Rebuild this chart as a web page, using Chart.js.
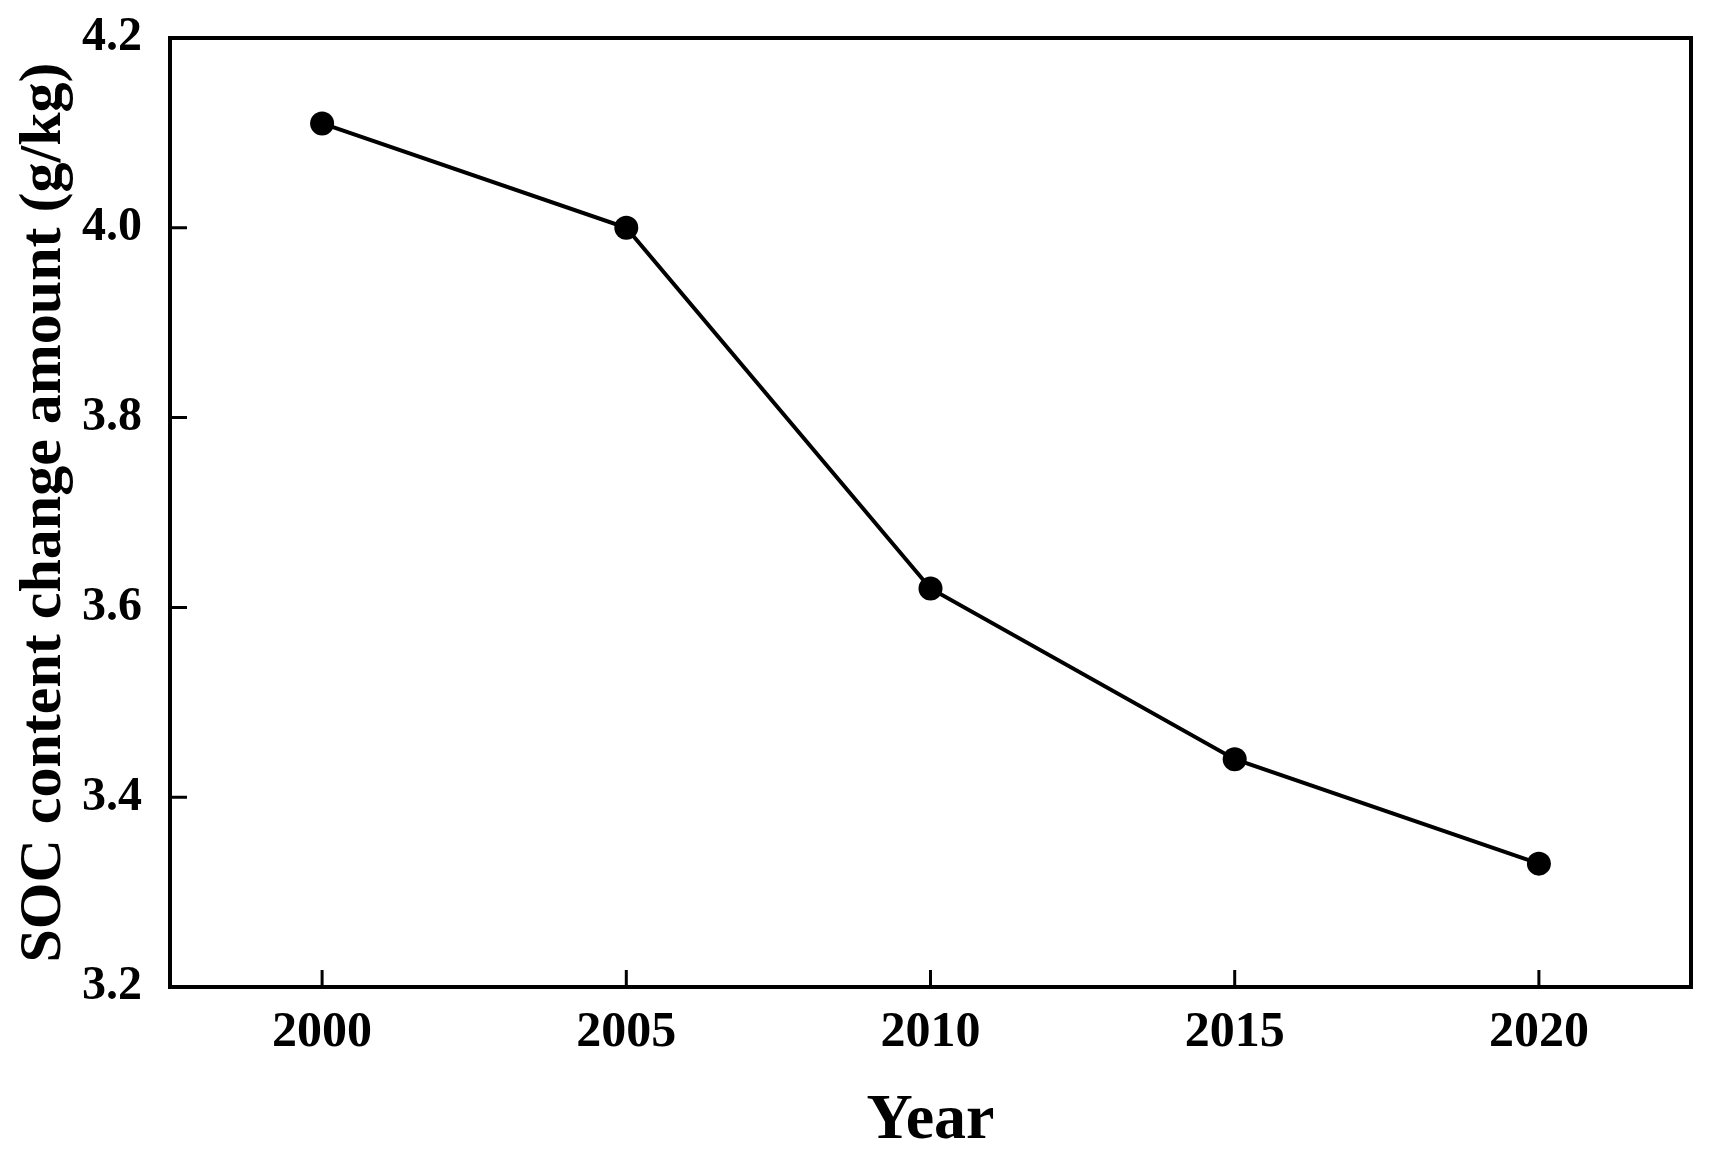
<!DOCTYPE html>
<html lang="en">
<head>
    <meta charset="UTF-8">
    <title>SOC content change</title>
    <script src="https://cdn.jsdelivr.net/npm/chart.js"></script>
    <style>
        body {
            margin: 0;
            background: #ffffff;
        }
        .chart-container {
            position: relative;
            width: 1710px;
            height: 1164px;
        }
    </style>
</head>
<body>
    <div class="chart-container">
        <canvas id="socChart"></canvas>
    </div>
    <script>
        // values
        const years = ['2000', '2005', '2010', '2015', '2020'];
        const socChange = [4.11, 4.00, 3.62, 3.44, 3.33];
        const yMin = 3.2;
        const yMax = 4.2;
        const yStep = 0.2;

        const fontFamily = "'Liberation Serif', 'Times New Roman', serif";

        // box around the plot plus tick marks pointing inward
        const frameAndTicks = {
            id: 'frameAndTicks',
            afterDatasetsDraw(chart) {
                const { ctx, chartArea: a, scales } = chart;
                const tickLen = 17;
                ctx.save();
                ctx.strokeStyle = '#000';
                ctx.lineWidth = 4;
                ctx.strokeRect(a.left, a.top, a.right - a.left, a.bottom - a.top);

                ctx.beginPath();
                scales.x.ticks.forEach((_, i) => {
                    const px = scales.x.getPixelForTick(i);
                    ctx.moveTo(px, a.bottom);
                    ctx.lineTo(px, a.bottom - tickLen);
                });
                scales.y.ticks.forEach((_, i) => {
                    const py = scales.y.getPixelForTick(i);
                    ctx.moveTo(a.left, py);
                    ctx.lineTo(a.left + tickLen, py);
                });
                ctx.lineWidth = 3;
                ctx.stroke();
                ctx.restore();
            }
        };

        const ctx = document.getElementById('socChart').getContext('2d');
        new Chart(ctx, {
            type: 'line',
            data: {
                labels: years,
                datasets: [{
                    label: 'SOC content change amount',
                    data: socChange,
                    borderColor: '#000',
                    backgroundColor: '#000',
                    borderWidth: 4,
                    pointRadius: 12,
                    pointBorderWidth: 0,
                    pointBackgroundColor: '#000',
                    tension: 0,
                    fill: false
                }]
            },
            options: {
                responsive: true,
                maintainAspectRatio: false,
                animation: false,
                layout: {
                    padding: { top: 38, right: 19, left: 0, bottom: 0 }
                },
                plugins: {
                    legend: { display: false },
                    tooltip: { enabled: false }
                },
                scales: {
                    x: {
                        offset: true,
                        grid: { display: false },
                        border: { display: false },
                        ticks: {
                            color: '#000',
                            padding: 8,
                            font: { family: fontFamily, size: 50, weight: 'bold' }
                        },
                        title: {
                            display: true,
                            text: 'Year',
                            color: '#000',
                            padding: { top: 0, bottom: 4 },
                            font: { family: fontFamily, size: 64, weight: 'bold' }
                        },
                        afterFit(scale) {
                            scale.height = 177;
                        }
                    },
                    y: {
                        min: yMin,
                        max: yMax,
                        grid: { display: false },
                        border: { display: false },
                        ticks: {
                            stepSize: yStep,
                            color: '#000',
                            padding: 20,
                            font: { family: fontFamily, size: 48, weight: 'bold' },
                            callback: (v) => v.toFixed(1)
                        },
                        title: {
                            display: true,
                            text: 'SOC content change amount (g/kg)',
                            color: '#000',
                            padding: { top: 8, bottom: 0 },
                            font: { family: fontFamily, size: 60, weight: 'bold' }
                        },
                        afterFit(scale) {
                            scale.width = 170;
                            scale.paddingTop = 0;
                            scale.paddingBottom = 0;
                        }
                    }
                }
            },
            plugins: [frameAndTicks]
        });
    </script>
</body>
</html>
